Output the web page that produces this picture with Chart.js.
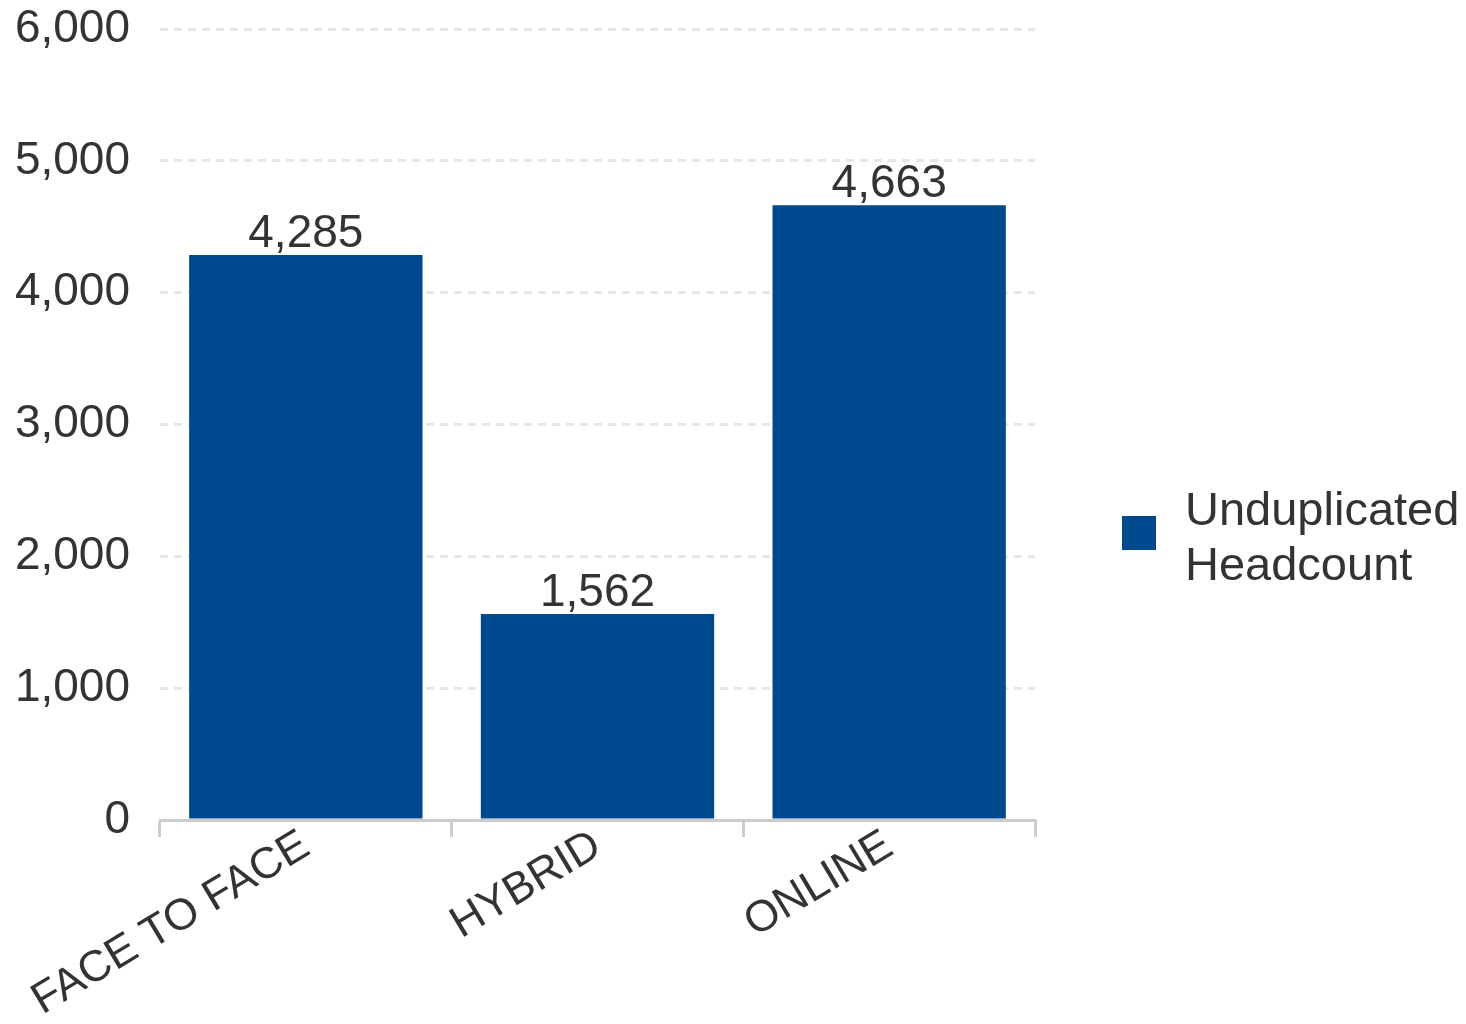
<!DOCTYPE html>
<html>
<head>
<meta charset="utf-8">
<script src="https://cdn.jsdelivr.net/npm/chart.js@4/dist/chart.umd.min.js"></script>
<style>
  html, body { margin: 0; padding: 0; background: #fff; }
  #wrap { width: 1466px; height: 1024px; }
</style>
</head>
<body>
<div id="wrap"><canvas id="myChart"></canvas></div>
<script>
// data
const categories = ['FACE TO FACE', 'HYBRID', 'ONLINE'];
const headcount = [4285, 1562, 4663];
const seriesLabel = ['Unduplicated', 'Headcount'];
const yTicks = [0, 1000, 2000, 3000, 4000, 5000, 6000];

const barColor = '#00498f';
const textColor = '#333333';
const fontFamily = "'Liberation Sans', Arial, sans-serif";

// value labels on top of the bars
const valueLabels = {
  id: 'valueLabels',
  afterDatasetsDraw(chart) {
    const ctx = chart.ctx;
    const meta = chart.getDatasetMeta(0);
    ctx.save();
    ctx.font = '46px ' + fontFamily;
    ctx.fillStyle = textColor;
    ctx.textAlign = 'center';
    ctx.textBaseline = 'alphabetic';
    meta.data.forEach((bar, i) => {
      ctx.fillText(headcount[i].toLocaleString('en-US'), bar.x, bar.y - 8);
    });
    ctx.restore();
  }
};

// legend on the right, with the box set away from the plot
const sideLegend = {
  id: 'sideLegend',
  afterDraw(chart) {
    const ctx = chart.ctx;
    const area = chart.chartArea;
    const boxX = area.right + 87;
    const midY = chart.height / 2 + 21;
    ctx.save();
    ctx.fillStyle = barColor;
    ctx.fillRect(boxX, midY - 17, 34, 34);
    ctx.font = '47px ' + fontFamily;
    ctx.fillStyle = textColor;
    ctx.textAlign = 'left';
    ctx.textBaseline = 'alphabetic';
    seriesLabel.forEach((line, i) => {
      ctx.fillText(line, boxX + 63, midY - 8 + i * 55);
    });
    ctx.restore();
  }
};

var ctx = document.getElementById('myChart').getContext('2d');

var myChart = new Chart(ctx, {
  type: 'bar',
  data: {
    labels: categories,
    datasets: [{
      label: seriesLabel.join(' '),
      data: headcount,
      backgroundColor: barColor,
      borderWidth: 0,
      barPercentage: 0.8,
      categoryPercentage: 1.0
    }]
  },
  options: {
    responsive: true,
    maintainAspectRatio: false,
    animation: false,
    layout: {
      padding: { left: 0, right: 431, top: 2, bottom: 0 }
    },
    scales: {
      x: {
        afterFit: (axis) => {
          axis.height = 204;
          axis.paddingLeft = 0;
          axis.paddingRight = 0;
          axis.paddingTop = 0;
          axis.paddingBottom = 0;
        },
        grid: {
          display: true,
          drawOnChartArea: false,
          drawTicks: true,
          tickLength: 17,
          color: '#cccccc',
          lineWidth: 3,
          offset: true
        },
        border: { display: true, color: '#cccccc', width: 3 },
        ticks: {
          color: textColor,
          font: { size: 44, family: fontFamily, lineHeight: 0.5 },
          minRotation: 31,
          maxRotation: 31,
          padding: -4
        }
      },
      y: {
        min: 0,
        max: 6000,
        afterBuildTicks: (axis) => {
          axis.ticks = yTicks.map(v => ({ value: v }));
        },
        afterFit: (axis) => {
          axis.width = 160;
          axis.paddingTop = 29;
          axis.paddingBottom = 0;
        },
        grid: {
          color: '#e6e6e6',
          lineWidth: 3,
          drawTicks: false
        },
        border: { display: false, dash: [8, 6] },
        ticks: {
          color: textColor,
          font: { size: 46, family: fontFamily },
          padding: 30,
          callback: (v) => v.toLocaleString('en-US')
        }
      }
    },
    plugins: {
      legend: { display: false },
      tooltip: { enabled: false }
    }
  },
  plugins: [valueLabels, sideLegend]
});
</script>
</body>
</html>
